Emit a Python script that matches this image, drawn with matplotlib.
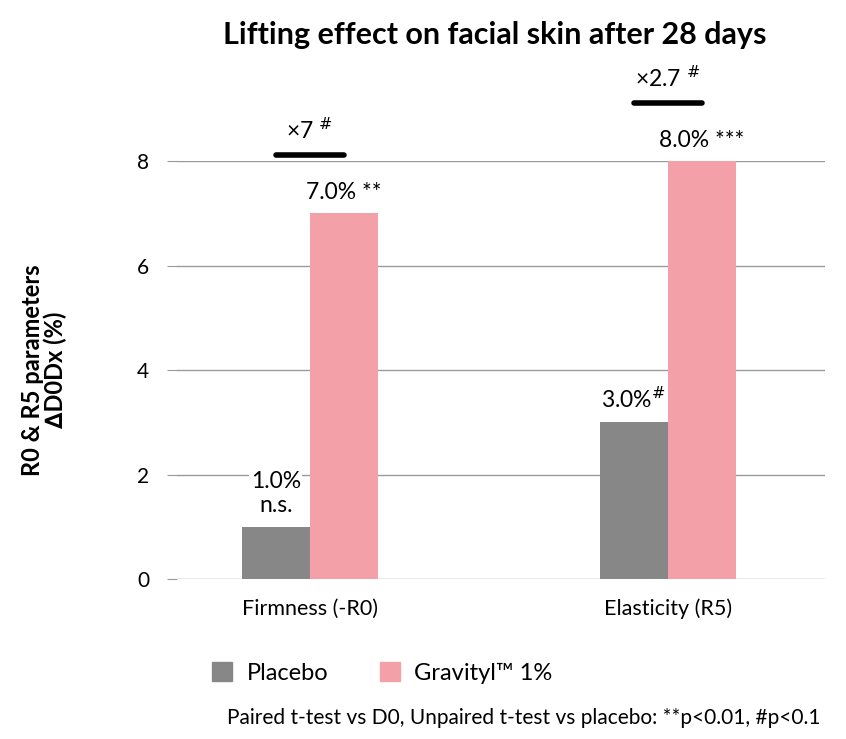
import matplotlib
matplotlib.use('Agg')
import matplotlib.pyplot as plt
import matplotlib.patches as patches
import numpy as np

plt.rcParams['font.family'] = ['Lato', 'DejaVu Sans']

# data
categories = ['Firmness (-R0)', 'Elasticity (R5)']
placebo = [1.0, 3.0]
gravityl = [7.0, 8.0]
placebo_marks = ['1.0%\nn.s.', '3.0%$^{\\#}$']
gravityl_marks = ['7.0% **', '8.0% ***']
fold_labels = ['×7 $^{\\#}$', '×2.7 $^{\\#}$']
y_ticks = [0, 2, 4, 6, 8]

GREY = '#878787'
PINK = '#f4a0a8'

fig = plt.figure(figsize=(8.46, 7.39), dpi=100)
ax = fig.add_axes([0.209, 0.2165, 0.766, 0.5655])

x = np.arange(len(categories))
w = 0.19
ax.bar(x - w / 2, placebo, w, color=GREY, zorder=3)
ax.bar(x + w / 2, gravityl, w, color=PINK, zorder=3)

ax.set_xlim(-0.3715, 1.439)
ax.set_ylim(0, 8)
ax.set_yticks(y_ticks)
ax.set_yticklabels([str(t) for t in y_ticks], fontsize=15)
ax.yaxis.grid(True, color='#9a9a9a', linewidth=1)
ax.set_axisbelow(True)
for s in ax.spines.values():
    s.set_visible(False)
ax.tick_params(axis='y', length=7, color='#9a9a9a', pad=13)
ax.tick_params(axis='x', length=0, pad=14)
ax.set_xticks(x)
ax.set_xticklabels(categories, fontsize=15.5)

ax.set_ylabel('R0 & R5 parameters\n∆D0Dx (%)', fontsize=17, fontweight='bold',
              labelpad=50, linespacing=1.0)

# value labels
for i in range(len(categories)):
    ax.text(x[i] - w / 2, placebo[i] + 0.2, placebo_marks[i], ha='center', va='bottom',
            fontsize=16.5, linespacing=1.2, clip_on=False,
            bbox=dict(facecolor='white', edgecolor='none', pad=1))
    ax.text(x[i] + w / 2, gravityl[i] + 0.2, gravityl_marks[i], ha='center', va='bottom',
            fontsize=16.5, clip_on=False)
    top = gravityl[i] + 1.12
    ax.plot([x[i] - w / 2, x[i] + w / 2], [top, top], color='black', lw=4,
            solid_capstyle='round', clip_on=False)
    ax.text(x[i], top + 0.22, fold_labels[i], ha='center', va='bottom', fontsize=16.5,
            clip_on=False)

fig.text(0.585, 0.952, 'Lifting effect on facial skin after 28 days', ha='center',
         va='center', fontsize=22, fontweight='bold')

handles = [patches.Patch(color=GREY, label='Placebo'),
           patches.Patch(color=PINK, label='Gravityl™ 1%')]
fig.legend(handles=handles, loc='center', bbox_to_anchor=(0.452, 0.089), ncol=2,
           frameon=False, fontsize=17, handlelength=0.85, handleheight=0.85,
           columnspacing=2.2, handletextpad=0.6)

fig.text(0.97, 0.028, 'Paired t-test vs D0, Unpaired t-test vs placebo: **p<0.01, #p<0.1',
         ha='right', va='center', fontsize=15)

fig.savefig('out.png', dpi=100)
